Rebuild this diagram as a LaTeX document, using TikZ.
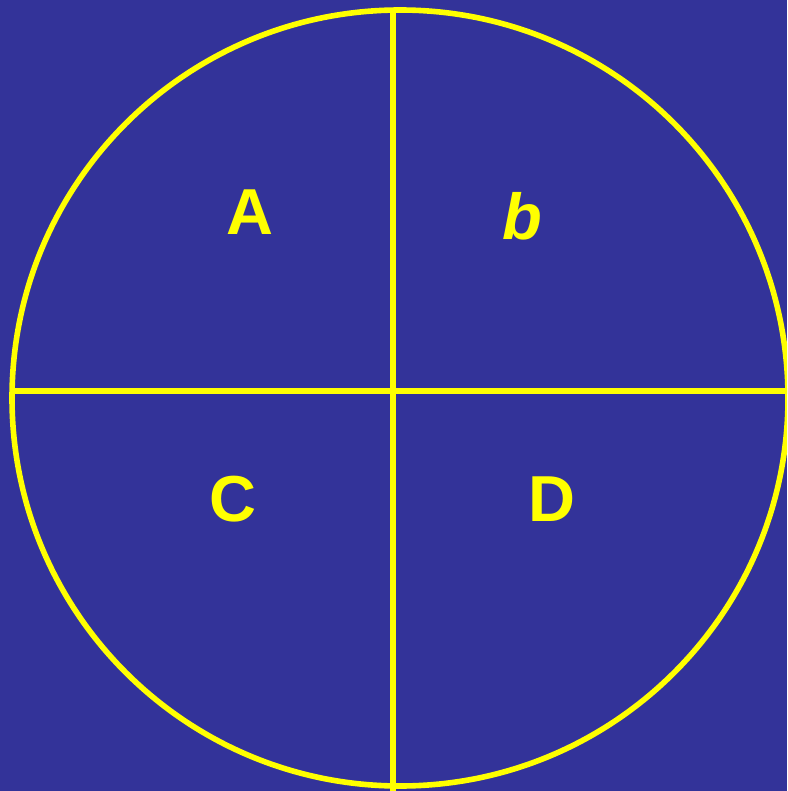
\documentclass[tikz,border=0pt]{standalone}
\usepackage{fontspec}
\setmainfont{Liberation Sans}
\usepackage{xcolor}
\usepackage{tikz}
\definecolor{bgblue}{RGB}{51,51,153}
\definecolor{ylw}{RGB}{255,255,0}

\begin{document}
\begin{tikzpicture}[
    x=1pt, y=-1pt,
    rim/.style={draw=ylw, line width=5.6pt},
    letter/.style={text=ylw, font=\fontsize{65}{65}\selectfont\bfseries, inner sep=0pt}
  ]
  \fill[bgblue] (0,0) rectangle (787,791);
  \useasboundingbox (0,0) rectangle (787,791);
  \clip (0,0) rectangle (787,791);

  \draw[rim] (400,398) circle (388);

  \coordinate (top) at (393,10);
  \coordinate (bot) at (393,791);
  \coordinate (lft) at (12,391);
  \coordinate (rgt) at (790,391);
  \draw[rim] (top) -- (bot);
  \draw[rim] (lft) -- (rgt);

  \node[letter] (qa) at (250,212) {A};
  \node[letter, font=\fontsize{65}{65}\selectfont\bfseries\itshape] (qb) at (522,216) {b};
  \node[letter] (qc) at (233,499) {C};
  \node[letter] (qd) at (552,499) {D};
\end{tikzpicture}
\end{document}
